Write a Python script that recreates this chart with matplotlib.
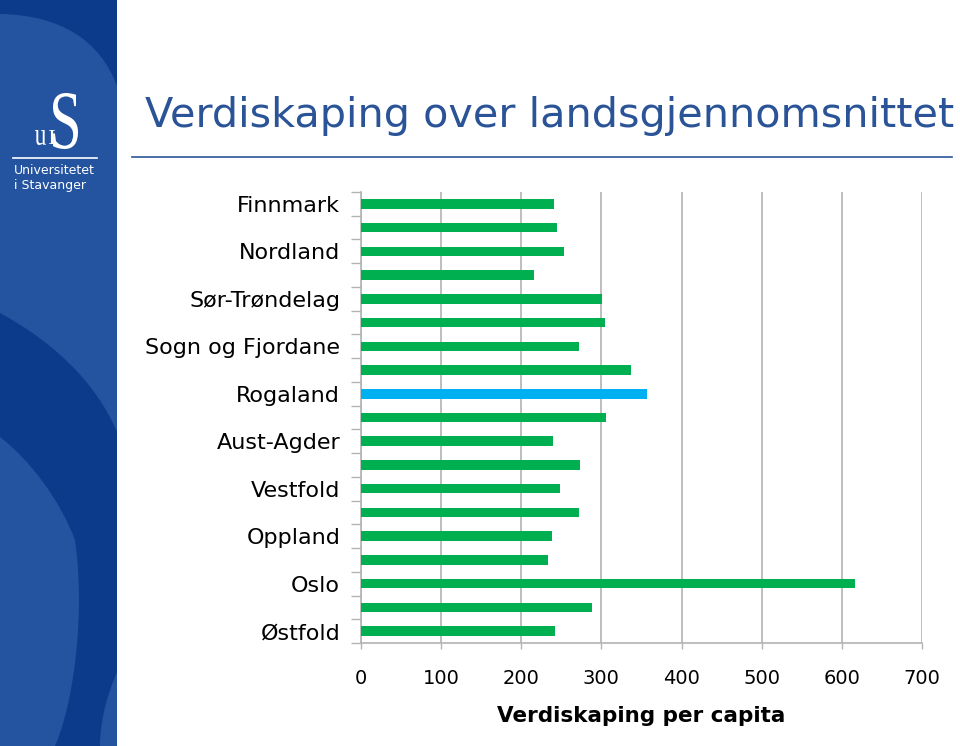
import numpy as np
import matplotlib
matplotlib.use("Agg")
import matplotlib.pyplot as plt
from matplotlib.path import Path
from matplotlib.patches import PathPatch, Rectangle
from matplotlib.textpath import TextPath
from matplotlib.font_manager import FontProperties
from matplotlib.transforms import Affine2D

# ---------------- data ----------------
counties = ["Finnmark", "Troms", "Nordland", "Nord-Trøndelag", "Sør-Trøndelag",
            "Møre og Romsdal", "Sogn og Fjordane", "Hordaland", "Rogaland",
            "Vest-Agder", "Aust-Agder", "Telemark", "Vestfold", "Buskerud",
            "Oppland", "Hedmark", "Oslo", "Akershus", "Østfold"]
values = [241, 245, 253, 216, 301, 304, 272, 337, 357, 306,
          240, 273, 248, 272, 238, 233, 616, 288, 242]
highlight = "Rogaland"
xticks = [0, 100, 200, 300, 400, 500, 600, 700]
title = "Verdiskaping over landsgjennomsnittet"
xlabel = "Verdiskaping per capita"

GREEN = "#00b050"
BLUE = "#00b0f0"
GRID = "#b3b3b3"
TITLE_C = "#2a5497"
PANEL_L = "#2453a0"
PANEL_D = "#0d3b8b"

W, H = 960, 746
fig = plt.figure(figsize=(W / 100, H / 100), dpi=100)
fig.patch.set_facecolor("white")

# ---------------- left decorative panel ----------------
pan = fig.add_axes([0, 0, 117 / W, 1])
pan.set_xlim(0, 117)
pan.set_ylim(H, 0)
pan.axis("off")
pan.add_patch(Rectangle((0, 0), 117, H, color=PANEL_L, zorder=0))
C4 = Path.CURVE4
# top dark region
top = Path([(0, 0), (117, 0), (117, 86), (100, 40), (60, 15), (0, 14), (0, 0)],
           [Path.MOVETO, Path.LINETO, Path.LINETO, C4, C4, C4, Path.CLOSEPOLY])
pan.add_patch(PathPatch(top, color=PANEL_D, lw=0, zorder=1))
# middle/lower dark band
band = Path([(0, 313), (50, 340), (95, 380), (117, 432),
             (117, 672),
             (105, 700), (100, 725), (100, 746),
             (55, 746),
             (75, 700), (85, 610), (75, 540),
             (60, 500), (30, 460), (0, 437),
             (0, 313)],
            [Path.MOVETO, C4, C4, C4,
             Path.LINETO,
             C4, C4, C4,
             Path.LINETO,
             C4, C4, C4,
             C4, C4, C4,
             Path.CLOSEPOLY])
pan.add_patch(PathPatch(band, color=PANEL_D, lw=0, zorder=1))

# logo
def glyph(ch, x0, x1, ytop, ybot, family="DejaVu Serif"):
    tp = TextPath((0, 0), ch, size=100, prop=FontProperties(family=family))
    ext = tp.get_extents()
    sx = (x1 - x0) / ext.width
    sy = (ybot - ytop) / ext.height
    tr = Affine2D().translate(-ext.x0, -ext.y1).scale(sx, -sy).translate(x0, ytop)
    pan.add_patch(PathPatch(tr.transform_path(tp), color="white", lw=0, zorder=3))

glyph("S", 53, 78, 93, 149, family="Liberation Serif")
glyph("u", 35, 46, 130, 145, family="Liberation Serif")
glyph("I", 49, 55, 130, 144, family="Liberation Serif")
pan.plot([13, 97], [158, 158], color="white", lw=1.2, zorder=3)
pan.text(14, 170, "Universitetet", color="white", fontsize=9, va="center", ha="left")
pan.text(14, 185, "i Stavanger", color="white", fontsize=9, va="center", ha="left")

# ---------------- title ----------------
fig.text(145 / W, 1 - 127 / H, title, color=TITLE_C, fontsize=29.8,
         family="DejaVu Sans", ha="left", va="baseline")
fig.add_artist(plt.Line2D([132 / W, 952 / W], [1 - 157 / H, 1 - 157 / H],
                          color=TITLE_C, lw=1.2))

# ---------------- chart ----------------
ax = fig.add_axes([361 / W, 1 - 643 / H, (922 - 361) / W, (643 - 192) / H])
y = np.arange(len(counties))
colors = [BLUE if c == highlight else GREEN for c in counties]
ax.barh(y, values, height=0.4, color=colors, zorder=3)
ax.set_xlim(0, 700)
ax.set_ylim(len(counties) - 0.5, -0.5)
ax.set_xticks(xticks)
ax.set_xticklabels([str(v) for v in xticks], fontsize=14)
ax.grid(axis="x", color=GRID, lw=1.2, zorder=0)
ax.set_axisbelow(True)
for s in ["top", "right"]:
    ax.spines[s].set_visible(False)
for s in ["left", "bottom"]:
    ax.spines[s].set_color(GRID)
    ax.spines[s].set_linewidth(1.2)

ax.set_yticks(y[::2])
ax.set_yticklabels(counties[::2], fontsize=16)
ax.set_yticks(np.arange(-0.5, len(counties), 1.0), minor=True)
ax.tick_params(axis="y", which="major", length=0, pad=15)
ax.tick_params(axis="y", which="minor", length=7, color=GRID, width=1, direction="out")
ax.tick_params(axis="x", which="major", length=4.5, color=GRID, width=1, pad=14)
ax.set_xlabel(xlabel, fontsize=15.5, fontweight="bold", labelpad=13)

fig.savefig("out.png", dpi=100, facecolor="white")
